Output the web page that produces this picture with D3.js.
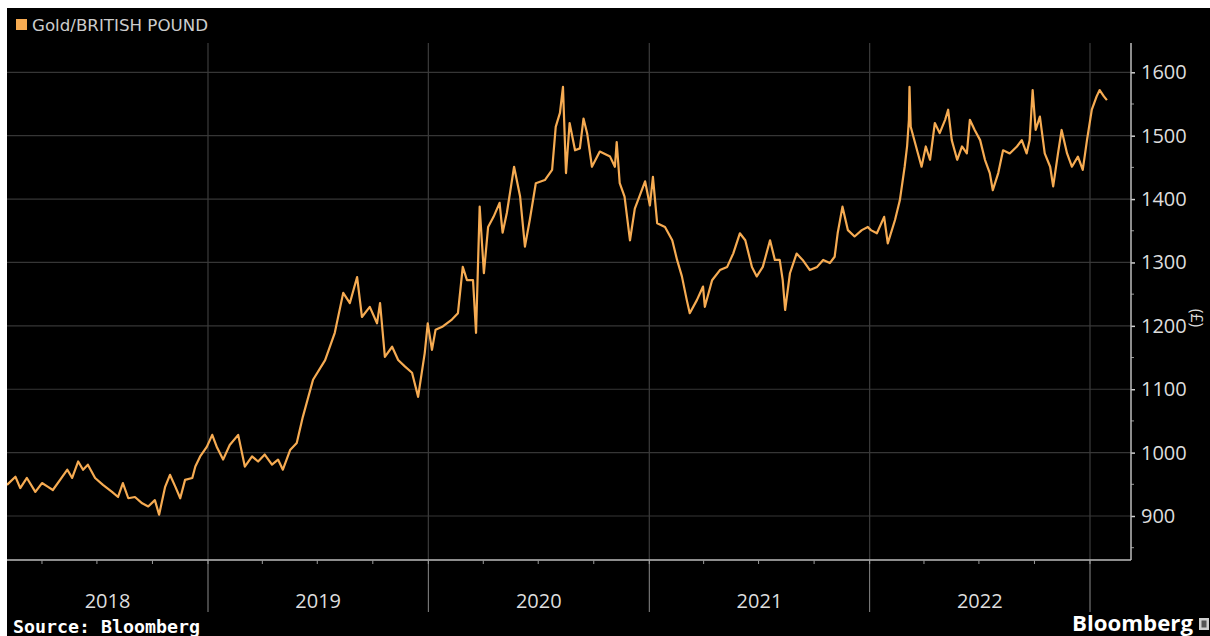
<!DOCTYPE html>
<html>
<head>
<meta charset="utf-8">
<script src="https://cdn.jsdelivr.net/npm/d3@7"></script>
<style>
  html, body { margin: 0; padding: 0; background: #ffffff; }
  svg { display: block; }
</style>
</head>
<body>
<svg id="chart" width="1210" height="636"></svg>
<script>
// ---------------- DATA ----------------
const seriesName = "Gold/BRITISH POUND";
const yearLabels = ["2018", "2019", "2020", "2021", "2022"];
const yTicks = [900, 1000, 1100, 1200, 1300, 1400, 1500, 1600];
const dates = [
  "2018-02-02","2018-02-16","2018-02-24","2018-03-07","2018-03-21","2018-04-01","2018-04-11","2018-04-19",
  "2018-05-01","2018-05-13","2018-05-21","2018-05-31","2018-06-08","2018-06-16","2018-06-28","2018-07-11",
  "2018-07-26","2018-08-05","2018-08-13","2018-08-22","2018-09-02","2018-09-14","2018-09-24","2018-10-05",
  "2018-10-12","2018-10-22","2018-10-30","2018-11-08","2018-11-16","2018-11-24","2018-12-06","2018-12-11",
  "2018-12-19","2018-12-30",
  "2019-01-08","2019-01-16","2019-01-26","2019-02-06","2019-02-20","2019-03-03","2019-03-15","2019-03-25",
  "2019-04-05","2019-04-17","2019-04-27","2019-05-05","2019-05-17","2019-05-28","2019-06-07","2019-06-24",
  "2019-07-14","2019-07-30","2019-08-13","2019-08-24","2019-09-05","2019-09-13","2019-09-26","2019-10-08",
  "2019-10-13","2019-10-21","2019-11-02","2019-11-12","2019-11-23","2019-12-05","2019-12-15","2019-12-26",
  "2019-12-31",
  "2020-01-07","2020-01-13","2020-01-25","2020-02-09","2020-02-19","2020-02-27","2020-03-05","2020-03-15",
  "2020-03-20","2020-03-26","2020-04-02","2020-04-09","2020-04-18","2020-04-28","2020-05-03","2020-05-10",
  "2020-05-22","2020-06-01","2020-06-09","2020-06-17","2020-06-27","2020-07-12","2020-07-24","2020-07-30",
  "2020-08-06","2020-08-11","2020-08-16","2020-08-22","2020-08-31","2020-09-08","2020-09-14","2020-09-20",
  "2020-09-28","2020-10-11","2020-10-28","2020-11-05","2020-11-08","2020-11-13","2020-11-21","2020-11-30",
  "2020-12-08","2020-12-16","2020-12-25",
  "2021-01-02","2021-01-07","2021-01-14","2021-01-27","2021-02-08","2021-02-16","2021-02-24","2021-03-04",
  "2021-03-09","2021-03-21","2021-03-31","2021-04-03","2021-04-15","2021-04-28","2021-05-10","2021-05-20",
  "2021-05-31","2021-06-09","2021-06-20","2021-06-28","2021-07-08","2021-07-20","2021-07-28","2021-08-05",
  "2021-08-10","2021-08-14","2021-08-22","2021-09-02","2021-09-12","2021-09-24","2021-10-06","2021-10-16",
  "2021-10-27","2021-11-04","2021-11-09","2021-11-17","2021-11-26","2021-12-07","2021-12-19","2021-12-29",
  "2022-01-03","2022-01-13","2022-01-25","2022-01-31","2022-02-12","2022-02-20","2022-02-28","2022-03-04",
  "2022-03-07","2022-03-08","2022-03-10","2022-03-22","2022-03-28","2022-04-04","2022-04-11","2022-04-19",
  "2022-04-27","2022-05-06","2022-05-11","2022-05-17","2022-05-26","2022-06-03","2022-06-11","2022-06-16",
  "2022-06-24","2022-07-03","2022-07-11","2022-07-19","2022-07-24","2022-08-02","2022-08-10","2022-08-21",
  "2022-09-02","2022-09-10","2022-09-18","2022-09-23","2022-09-28","2022-10-03","2022-10-10","2022-10-18",
  "2022-10-27","2022-11-01","2022-11-09","2022-11-15","2022-11-24","2022-12-02","2022-12-12","2022-12-20",
  "2022-12-27",
  "2023-01-04","2023-01-12","2023-01-17","2023-01-24","2023-01-29"
];
const values = [
  949,962,944,960,938,952,946,941,
  957,973,960,986,973,981,960,949,
  938,930,952,928,930,920,915,925,
  902,946,965,946,928,957,960,978,
  994,1009,
  1028,1008,989,1012,1028,978,994,986,
  997,981,989,973,1004,1015,1056,1115,
  1146,1189,1252,1236,1277,1214,1230,1204,
  1236,1151,1167,1146,1136,1126,1088,1157,
  1204,
  1162,1194,1199,1210,1220,1293,1272,1272,
  1189,1388,1283,1356,1372,1394,1347,1378,
  1451,1404,1325,1367,1425,1430,1446,1514,
  1536,1577,1441,1520,1477,1480,1527,1504,
  1451,1475,1467,1451,1490,1425,1404,1335,
  1385,1405,1428,
  1390,1435,1362,1356,1335,1304,1278,1241,
  1220,1241,1262,1230,1272,1288,1293,1314,
  1346,1335,1293,1278,1293,1335,1304,1304,
  1272,1225,1283,1314,1304,1288,1293,1304,
  1299,1309,1346,1388,1351,1341,1351,1356,
  1351,1346,1372,1330,1367,1398,1451,1483,
  1525,1577,1514,1472,1451,1483,1462,1520,
  1504,1525,1541,1493,1462,1483,1472,1525,
  1509,1493,1462,1441,1414,1441,1477,1472,
  1483,1493,1472,1493,1572,1509,1530,1472,
  1451,1420,1472,1509,1472,1451,1467,1446,
  1493,
  1541,1562,1572,1562,1556
];

// ---------------- LAYOUT ----------------
const W = 1210, H = 636;
const plotLeft = 7, plotRight = 1131, plotTop = 43, plotBottom = 560;
const lineColor = "#f6ab52";

const parse = d3.timeParse("%Y-%m-%d");
const data = dates.map((d, i) => ({ date: parse(d), value: values[i] }));

const x = d3.scaleTime()
  .domain([parse("2019-01-01"), parse("2023-01-01")])
  .range([208, 1090]);
const y = d3.scaleLinear()
  .domain([900, 1600])
  .range([516, 72.3]);

const svg = d3.select("#chart");

// background
svg.append("rect").attr("x", 7).attr("y", 8).attr("width", W - 7).attr("height", H - 8).attr("fill", "#000");

// clip
svg.append("defs").append("clipPath").attr("id", "plotclip")
  .append("rect").attr("x", plotLeft).attr("y", plotTop)
  .attr("width", plotRight - plotLeft).attr("height", plotBottom - plotTop);

// horizontal gridlines
svg.append("g").selectAll("line").data(yTicks).join("line")
  .attr("x1", plotLeft).attr("x2", plotRight)
  .attr("y1", d => y(d)).attr("y2", d => y(d))
  .attr("stroke", "#363636").attr("stroke-width", 1.2);

// year boundaries
const yearStarts = d3.timeYear.range(parse("2019-01-01"), parse("2023-01-02"));
svg.append("g").selectAll("line").data(yearStarts).join("line")
  .attr("x1", d => x(d)).attr("x2", d => x(d))
  .attr("y1", plotTop).attr("y2", plotBottom)
  .attr("stroke", "#3c3c3c").attr("stroke-width", 1.2);
svg.append("g").selectAll("line").data(yearStarts).join("line")
  .attr("x1", d => x(d)).attr("x2", d => x(d))
  .attr("y1", plotBottom).attr("y2", 612)
  .attr("stroke", "#8a8a8a").attr("stroke-width", 1);

// line
const line = d3.line().x(d => x(d.date)).y(d => y(d.value));
svg.append("path").datum(data)
  .attr("clip-path", "url(#plotclip)")
  .attr("d", line)
  .attr("fill", "none")
  .attr("stroke", lineColor)
  .attr("stroke-width", 2.2)
  .attr("stroke-linejoin", "round");

// right axis
const yAxis = d3.axisRight(y).tickValues(yTicks).tickSize(4).tickPadding(6).tickFormat(d3.format("d"));
const gy = svg.append("g").attr("transform", `translate(${plotRight},0)`).call(yAxis);
gy.select(".domain").remove();
gy.selectAll(".tick line").attr("stroke", "#cfcfcf").attr("stroke-width", 1.5);
gy.selectAll(".tick text").attr("fill", "#dddddd").style("font-family", "'Open Sans', sans-serif").style("font-size", "20px");
// minor ticks
const minorY = d3.range(850, 1650, 100);
svg.append("g").selectAll("line").data(minorY).join("line")
  .attr("x1", plotRight).attr("x2", plotRight + 3)
  .attr("y1", d => y(d)).attr("y2", d => y(d))
  .attr("stroke", "#9a9a9a").attr("stroke-width", 1);
svg.append("line").attr("x1", plotRight).attr("x2", plotRight).attr("y1", plotTop).attr("y2", plotBottom)
  .attr("stroke", "#bdbdbd").attr("stroke-width", 1.5);

// bottom axis
svg.append("line").attr("x1", plotLeft).attr("x2", plotRight).attr("y1", plotBottom).attr("y2", plotBottom)
  .attr("stroke", "#bdbdbd").attr("stroke-width", 1.5);
const quarters = d3.timeMonth.every(3).range(parse("2018-02-01"), parse("2023-02-01"));
svg.append("g").selectAll("line").data(quarters).join("line")
  .attr("x1", d => x(d)).attr("x2", d => x(d))
  .attr("y1", plotBottom).attr("y2", plotBottom + 4)
  .attr("stroke", "#9a9a9a").attr("stroke-width", 1);

// year labels
svg.append("g").selectAll("text").data(yearLabels).join("text")
  .attr("x", d => {
    const a = Math.max(x(parse(d + "-01-01")), plotLeft);
    const b = x(parse((+d + 1) + "-01-01"));
    return (a + b) / 2;
  })
  .attr("y", 608)
  .attr("text-anchor", "middle")
  .attr("fill", "#dddddd")
  .style("font-family", "'Open Sans', sans-serif")
  .style("font-size", "20px")
  .text(d => d);

// unit label
svg.append("text")
  .attr("transform", "translate(1191,318) rotate(90)")
  .attr("text-anchor", "middle")
  .attr("fill", "#dddddd")
  .style("font-family", "'Open Sans', sans-serif")
  .style("font-size", "16px")
  .text("(£)");

// legend
svg.append("rect").attr("x", 16).attr("y", 19).attr("width", 11).attr("height", 11).attr("fill", lineColor);
svg.append("text").attr("x", 32).attr("y", 31)
  .attr("fill", "#cccccc")
  .attr("textLength", 176).attr("lengthAdjust", "spacingAndGlyphs")
  .style("font-family", "'DejaVu Sans', sans-serif")
  .style("font-size", "15px")
  .text(seriesName);

// source
svg.append("text").attr("x", 13).attr("y", 633)
  .attr("fill", "#ffffff")
  .attr("textLength", 187).attr("lengthAdjust", "spacingAndGlyphs")
  .style("font-family", "'DejaVu Sans Mono', monospace")
  .style("font-weight", "bold")
  .style("font-size", "17px")
  .text("Source: Bloomberg");

// Bloomberg logo
svg.append("text").attr("x", 1072).attr("y", 631)
  .attr("fill", "#ffffff")
  .attr("textLength", 121).attr("lengthAdjust", "spacingAndGlyphs")
  .style("font-family", "'Open Sans', sans-serif")
  .style("font-weight", "bold")
  .style("font-size", "21px")
  .text("Bloomberg");
svg.append("rect").attr("x", 1199).attr("y", 618).attr("width", 10).attr("height", 12).attr("fill", "#cfcfcf");
svg.append("rect").attr("x", 1201.5).attr("y", 620.5).attr("width", 5).attr("height", 7).attr("fill", "#555");
</script>
</body>
</html>
